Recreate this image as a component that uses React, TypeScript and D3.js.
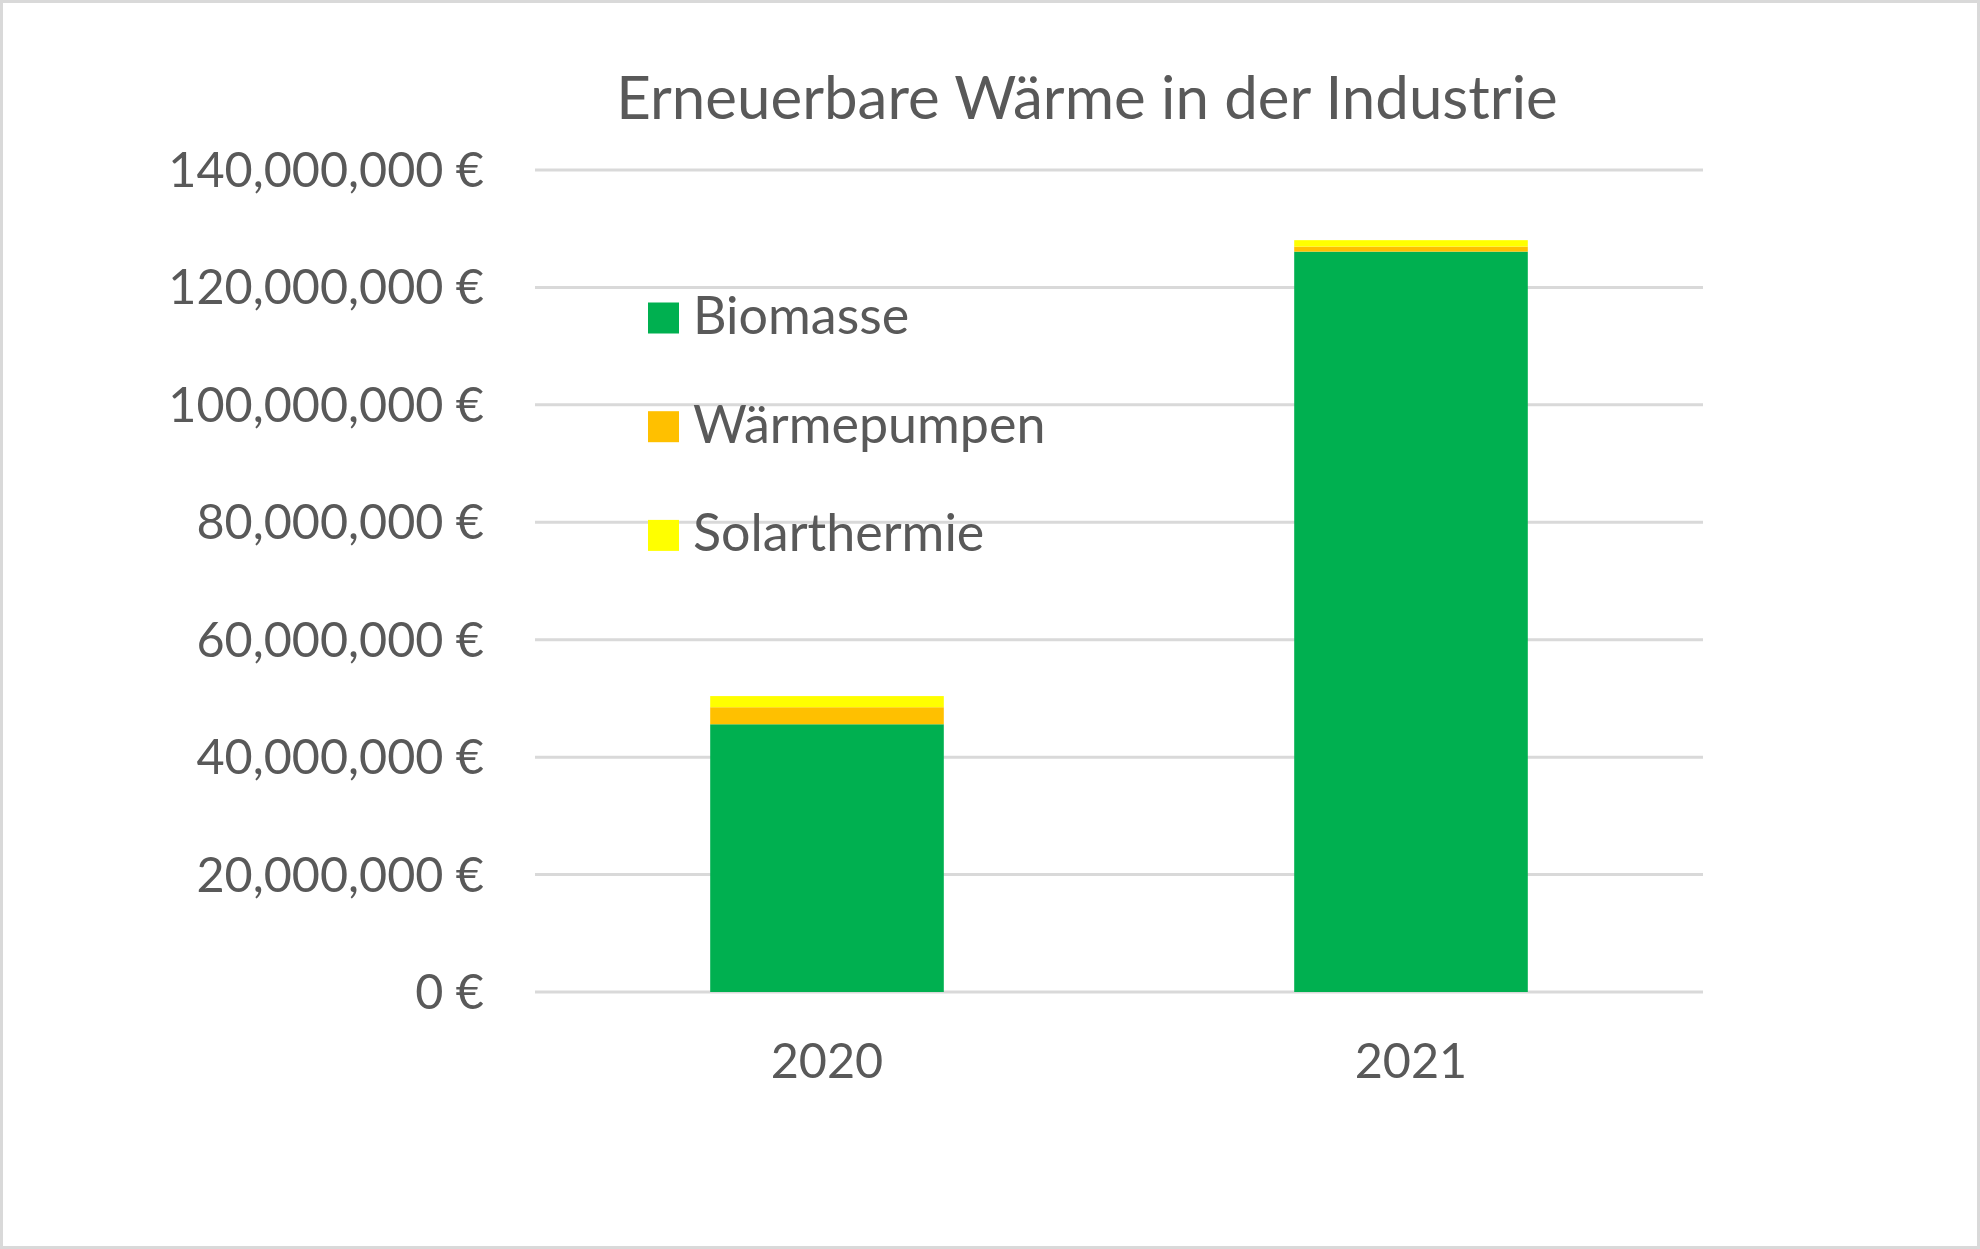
import { useEffect, useRef } from 'react';
import * as d3 from 'd3';

const years = ['2020', '2021'];
const seriesNames = ['Biomasse', 'Wärmepumpen', 'Solarthermie'];
const biomasse = [45600000, 126100000];
const waermepumpen = [2900000, 850000];
const solarthermie = [1900000, 1100000];
const yTicks = [0, 20000000, 40000000, 60000000, 80000000, 100000000, 120000000, 140000000];
const colors = ['#00b050', '#ffc000', '#ffff00'];

const W = 1980;
const H = 1249;
const FONT = 'Lato, "Open Sans", sans-serif';
const TEXT = '#595959';

function App() {
  const svgRef = useRef(null);

  useEffect(() => {
    const svg = d3.select(svgRef.current);
    svg.selectAll('*').remove();

    const rows = years.map((year, i) => ({
      year,
      Biomasse: biomasse[i],
      Wärmepumpen: waermepumpen[i],
      Solarthermie: solarthermie[i],
    }));

    const x = d3
      .scaleBand()
      .domain(years)
      .range([535, 1703])
      .paddingInner(0.6)
      .paddingOuter(0.3);

    const y = d3.scaleLinear().domain([0, 140000000]).range([992, 170]);

    // frame
    svg
      .append('rect')
      .attr('x', 1.5)
      .attr('y', 1.5)
      .attr('width', W - 3)
      .attr('height', H - 3)
      .attr('fill', '#fff')
      .attr('stroke', '#d9d9d9')
      .attr('stroke-width', 3);

    // gridlines
    svg
      .append('g')
      .selectAll('line')
      .data(yTicks)
      .join('line')
      .attr('x1', 535)
      .attr('x2', 1703)
      .attr('y1', d => y(d))
      .attr('y2', d => y(d))
      .attr('stroke', '#d9d9d9')
      .attr('stroke-width', 3);

    // y labels
    const fmt = d3.format(',');
    svg
      .append('g')
      .selectAll('text')
      .data(yTicks)
      .join('text')
      .attr('x', 484)
      .attr('y', d => y(d) + 17)
      .attr('text-anchor', 'end')
      .attr('font-family', FONT)
      .attr('font-size', 48.5)
      .attr('fill', TEXT)
      .text(d => `${fmt(d)} €`);

    // stacked bars
    const stacked = d3.stack().keys(seriesNames)(rows as any);
    svg
      .append('g')
      .selectAll('g')
      .data(stacked)
      .join('g')
      .attr('fill', (_, i) => colors[i])
      .selectAll('rect')
      .data(d => d)
      .join('rect')
      .attr('x', d => x((d.data as any).year)!)
      .attr('width', x.bandwidth())
      .attr('y', d => y(d[1]))
      .attr('height', d => y(d[0]) - y(d[1]));

    // x labels
    svg
      .append('g')
      .selectAll('text')
      .data(years)
      .join('text')
      .attr('x', d => x(d)! + x.bandwidth() / 2)
      .attr('y', 1078)
      .attr('text-anchor', 'middle')
      .attr('font-family', FONT)
      .attr('font-size', 48.5)
      .attr('fill', TEXT)
      .text(d => d);

    // title
    svg
      .append('text')
      .attr('x', 1087)
      .attr('y', 119)
      .attr('text-anchor', 'middle')
      .attr('font-family', FONT)
      .attr('font-size', 60)
      .attr('fill', TEXT)
      .text('Erneuerbare Wärme in der Industrie');

    // legend
    const legend = svg
      .append('g')
      .selectAll('g')
      .data(seriesNames)
      .join('g')
      .attr('transform', (_, i) => `translate(648, ${318 + i * 108.7})`);
    legend
      .append('rect')
      .attr('x', 0)
      .attr('y', -15.5)
      .attr('width', 31)
      .attr('height', 31)
      .attr('fill', (_, i) => colors[i]);
    legend
      .append('text')
      .attr('x', 45)
      .attr('y', 16)
      .attr('font-family', FONT)
      .attr('font-size', 52)
      .attr('fill', TEXT)
      .text(d => d);
  }, []);

  return (
    <svg
      ref={svgRef}
      width={W}
      height={H}
      style={{ position: 'absolute', left: 0, top: 0, display: 'block' }}
    />
  );
}

export default App;
